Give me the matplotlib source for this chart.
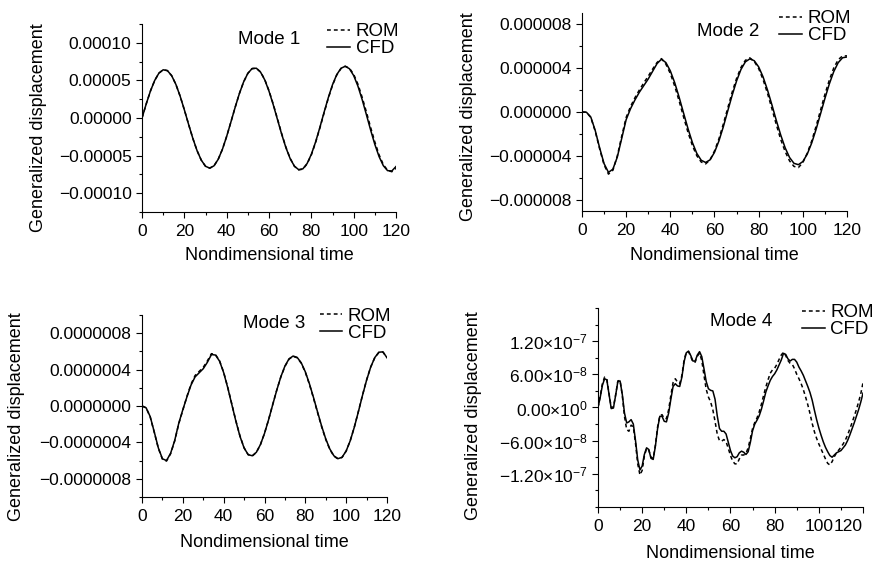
import matplotlib
matplotlib.use("Agg")
import matplotlib.pyplot as plt
from matplotlib.ticker import MultipleLocator, FuncFormatter, FixedLocator
import numpy as np

plt.rcParams['font.family'] = ['Liberation Sans', 'DejaVu Sans']
plt.rcParams['mathtext.fontset'] = 'custom'
plt.rcParams['mathtext.rm'] = 'Liberation Sans'
plt.rcParams['mathtext.it'] = 'Liberation Sans:italic'

# --- data
# modes 1-3 sampled every 2 time units, mode 4 every 1 time unit
t_coarse = np.arange(0, 121, 2)
t_fine = np.arange(0, 121, 1)

# mode 1, units of 1e-5
mode1_cfd = [0, 1.88, 3.6, 5.0, 5.97, 6.41,
             6.30, 5.63, 4.47, 2.91, 1.09, -0.84, -2.70, -4.34, -5.61, -6.42, -6.67,
             -6.36, -5.49, -4.15, -2.44, -0.53, 1.42, 3.25, 4.80, 5.94, 6.57,
             6.62, 6.10, 5.06, 3.56, 1.76, -0.21, -2.18, -3.96, -5.41, -6.41, -6.87,
             -6.76, -6.05, -4.83, -3.19, -1.28, 0.75, 2.70, 4.43, 5.77, 6.61, 6.88,
             6.55, 5.64, 4.24, 2.45, 0.45, -1.60, -3.52, -5.14, -6.34, -7.0, -7.05, -6.45]
mode1_rom = [0, 1.88, 3.6, 5.0, 5.97, 6.41,
             6.30, 5.63, 4.47, 2.91, 1.09, -0.84, -2.70, -4.34, -5.61, -6.42, -6.67,
             -6.36, -5.49, -4.15, -2.44, -0.53, 1.42, 3.25, 4.80, 5.94, 6.57,
             6.62, 6.12, 5.10, 3.62, 1.84, -0.12, -2.10, -3.90, -5.38, -6.42, -6.90,
             -6.80, -6.10, -4.90, -3.26, -1.36, 0.66, 2.62, 4.36, 5.72, 6.58, 6.88,
             6.62, 5.80, 4.50, 2.75, 0.80, -1.25, -3.20, -4.90, -6.20, -6.95, -7.15, -6.70]

# mode 2, units of 1e-6
mode2_cfd = [0, -0.02, -0.46, -1.68, -3.26, -4.69, -5.49, -5.2, -4.1, -2.4,
             -0.7, 0.3, 1.1, 1.8, 2.4, 3.0, 3.7, 4.4, 4.8,
             4.49, 3.74, 2.66, 1.34, -0.10, -1.51, -2.78, -3.77, -4.39, -4.59,
             -4.35, -3.67, -2.64, -1.35, 0.09, 1.52, 2.82, 3.87, 4.56, 4.83,
             4.66, 4.10, 3.19, 2.00, 0.65, -0.77, -2.10, -3.26, -4.14, -4.67, -4.79,
             -4.51, -3.83, -2.83, -1.58, -0.18, 1.23, 2.55, 3.67, 4.48, 4.93, 5.0]
mode2_rom = [0, -0.02, -0.5, -1.75, -3.35, -4.8, -5.65, -5.3, -4.0, -2.2,
             -0.5, 0.5, 1.3, 2.0, 2.65, 3.25, 3.9, 4.5, 4.85,
             4.35, 3.5, 2.35, 1.0, -0.45, -1.85, -3.05, -3.98, -4.55, -4.72,
             -4.35, -3.55, -2.45, -1.1, 0.35, 1.8, 3.05, 4.05, 4.7, 4.92,
             4.6, 3.95, 2.95, 1.7, 0.3, -1.15, -2.5, -3.6, -4.45, -4.95, -5.05,
             -4.6, -3.75, -2.65, -1.3, 0.15, 1.6, 2.9, 4.0, 4.75, 5.1, 5.1]

# mode 3, units of 1e-7
mode3_cfd = [0, -0.2, -1.16, -2.85, -4.61, -5.80, -6.0,
             -5.2, -3.8, -1.9, -0.4, 1.0, 2.3, 3.2, 3.65, 4.1, 4.8, 5.65,
             5.6, 4.92, 3.66, 2.00, 0.15, -1.69, -3.35, -4.61, -5.35, -5.47,
             -5.09, -4.24, -3.01, -1.51, 0.13, 1.74, 3.21, 4.39, 5.18, 5.49,
             5.34, 4.74, 3.75, 2.44, 0.93, -0.67, -2.23, -3.62, -4.73, -5.48, -5.79,
             -5.63, -4.94, -3.81, -2.32, -0.61, 1.17, 2.84, 4.27, 5.32, 5.91, 5.95, 5.3]
mode3_rom = [0, -0.2, -1.2, -2.9, -4.65, -5.85, -6.05,
             -5.25, -3.85, -1.95, -0.45, 1.05, 2.4, 3.35, 3.8, 4.25, 4.95, 5.75,
             5.65, 4.95, 3.7, 2.05, 0.2, -1.65, -3.3, -4.6, -5.35, -5.5,
             -5.1, -4.25, -3.0, -1.5, 0.15, 1.75, 3.2, 4.35, 5.15, 5.45,
             5.3, 4.7, 3.7, 2.38, 0.85, -0.75, -2.3, -3.68, -4.78, -5.52, -5.82,
             -5.65, -4.95, -3.8, -2.3, -0.58, 1.2, 2.86, 4.28, 5.3, 5.88, 5.93, 5.3]

# mode 4, units of 1e-8
mode4_cfd = [0, 1.8, 4.0, 5.2, 5.0, 2.4, -0.2, -0.1, 2.2, 4.7,
             4.8, 2.4, -1.0, -2.8, -2.6, -2.2, -3.0, -6.0, -9.5, -11.3,
             -10.6, -8.5, -7.3, -7.6, -9.2, -9.4, -7.0, -3.8, -1.6, -1.6,
             -2.5, -2.6, -1.0, 1.5, 3.8, 4.3, 3.9, 3.8, 5.5, 8.3,
             9.9, 10.2, 9.4, 8.4, 8.4, 9.5, 10.1, 9.2, 7.0, 4.7,
             3.4, 3.1, 3.0, 1.5, -1.5, -3.8, -4.3, -4.3, -4.8, -6.3,
             -7.8, -8.8, -9.1, -8.9, -8.2, -7.9, -8.1, -8.5, -8.0, -6.3,
             -4.2, -3.0, -2.3, -1.5, -0.3, 1.2, 2.8, 3.9, 4.9, 5.6,
             6.1, 6.8, 7.7, 8.6, 9.8, 9.6, 8.8, 8.4, 8.7, 8.7,
             8.2, 7.3, 6.6, 5.8, 4.8, 3.8, 2.7, 1.3, -0.5, -2.2,
             -3.7, -5.0, -6.2, -7.2, -8.0, -8.7, -9.0, -8.6, -8.2, -8.0,
             -7.8, -7.3, -6.8, -6.0, -5.0, -3.9, -2.8, -1.6, -0.4, 1.0, 2.6]
mode4_rom = [0, 2.0, 4.3, 5.5, 5.2, 2.5, 0.0, 0.1, 2.3, 4.8,
             4.9, 2.2, -1.6, -4.0, -4.3, -3.2, -3.5, -6.5, -10.2, -12.2,
             -11.4, -8.8, -7.4, -7.7, -9.0, -9.2, -6.8, -3.5, -1.5, -1.3,
             -2.0, -2.0, -0.4, 2.2, 4.5, 5.2, 4.6, 4.3, 5.8, 8.6,
             10.0, 10.1, 9.2, 8.2, 8.2, 9.3, 9.8, 8.5, 5.8, 3.3,
             1.9, 1.0, -0.4, -2.5, -4.8, -6.0, -6.1, -5.8, -6.2, -7.4,
             -8.7, -9.7, -10.2, -10.2, -9.3, -8.6, -8.6, -8.3, -7.3, -5.6,
             -3.8, -2.7, -1.9, -0.8, 0.6, 2.2, 3.7, 5.0, 6.2, 6.8,
             7.1, 7.8, 8.7, 9.5, 10.0, 9.4, 8.5, 8.0, 7.8, 7.0,
             6.0, 5.2, 4.3, 3.2, 1.9, 0.5, -1.1, -2.9, -4.4, -5.6,
             -6.6, -7.5, -8.4, -9.3, -10.1, -10.4, -9.8, -8.9, -8.2, -7.7,
             -7.2, -6.6, -5.9, -5.0, -3.9, -2.8, -1.6, -0.4, 1.0, 2.5, 4.5]

x_ticks = [0, 20, 40, 60, 80, 100, 120]
mode4_yticks = [-1.2e-7, -6e-8, 0, 6e-8, 1.2e-7]
mode4_ytick_labels = ['\u22121.20\u00d710$^{-7}$', '\u22126.00\u00d710$^{-8}$',
                      '0.00\u00d710$^{0}$', '6.00\u00d710$^{-8}$', '1.20\u00d710$^{-7}$']

fig = plt.figure(figsize=(8.75, 5.62), dpi=100)


def fixed_fmt(ndec):
    def f(v, pos):
        s = '%.*f' % (ndec, v)
        if float(s) == 0:
            s = s.lstrip('-')
        return s.replace('-', '\u2212')
    return FuncFormatter(f)


def style(ax, ylim, ymajor, yminor):
    for side in ('top', 'right'):
        ax.spines[side].set_visible(False)
    ax.set_xlim(0, 120)
    ax.set_ylim(-ylim, ylim)
    ax.xaxis.set_major_locator(FixedLocator(x_ticks))
    ax.xaxis.set_minor_locator(MultipleLocator(10))
    if ymajor is not None:
        ax.yaxis.set_major_locator(MultipleLocator(ymajor))
    ax.yaxis.set_minor_locator(MultipleLocator(yminor))
    ax.tick_params(which='major', direction='out', length=4, width=0.8, labelsize=12.5)
    ax.tick_params(axis='x', which='major', pad=4.5)
    ax.tick_params(axis='y', which='major', pad=3.5)
    ax.tick_params(which='minor', direction='out', length=2.5, width=0.8)
    ax.set_xlabel('Nondimensional time', fontsize=13)
    ax.set_ylabel('Generalized displacement', fontsize=13)


panels = [
    # rect, t, cfd, rom, scale, ylim, major, minor, ndec, label, ylabel xy, xlabel y, legend xy, mode xy
    ([0.1623, 0.6228, 0.2903, 0.3345], t_coarse, mode1_cfd, mode1_rom, 1e-5, 1.25e-4, 5e-5, 2.5e-5, 5,
     'Mode 1', (-0.375, 0.45), -0.186, (0.73, 1.005), (0.50, 0.915)),
    ([0.6651, 0.6246, 0.3029, 0.3523], t_coarse, mode2_cfd, mode2_rom, 1e-6, 9e-6, 4e-6, 2e-6, 6,
     'Mode 2', (-0.397, 0.475), -0.182, (0.745, 1.015), (0.55, 0.905)),
    ([0.1623, 0.1157, 0.2800, 0.3238], t_coarse, mode3_cfd, mode3_rom, 1e-7, 1.0e-6, 4e-7, 2e-7, 7,
     'Mode 3', (-0.478, 0.44), -0.205, (0.725, 1.04), (0.54, 0.955)),
    ([0.6834, 0.0979, 0.3029, 0.3541], t_fine, mode4_cfd, mode4_rom, 1e-8, 1.8e-7, None, 3e-8, None,
     'Mode 4', (-0.439, 0.457), -0.19, (0.77, 1.02), (0.54, 0.93)),
]

for rect, t, cfd, rom, scale, ylim, major, minor, ndec, name, ylab_xy, xlab_y, leg_xy, mode_xy in panels:
    ax = fig.add_axes(rect)
    ax.plot(t, np.array(rom) * scale, color='black', lw=1.1, ls=(0, (2.5, 2)), label='ROM')
    ax.plot(t, np.array(cfd) * scale, color='black', lw=1.1, label='CFD')
    style(ax, ylim, major, minor)
    if ndec is not None:
        ax.yaxis.set_major_formatter(fixed_fmt(ndec))
    else:
        ax.yaxis.set_major_locator(FixedLocator(mode4_yticks))
        ax.set_yticklabels(mode4_ytick_labels)
        # the "120" label sits at the right figure edge; keep it inside
        ax.xaxis.get_major_ticks()[len(x_ticks) - 1].label1.set_horizontalalignment('right')
    ax.yaxis.set_label_coords(*ylab_xy)
    ax.xaxis.set_label_coords(0.5, xlab_y)
    ax.legend(loc='upper left', bbox_to_anchor=leg_xy, frameon=False, fontsize=13.5,
              handlelength=1.2, handletextpad=0.3, labelspacing=0.0,
              borderpad=0, borderaxespad=0)
    ax.text(mode_xy[0], mode_xy[1], name, transform=ax.transAxes, ha='center', va='center',
            fontsize=13.5)

fig.savefig('out.png', dpi=100)
